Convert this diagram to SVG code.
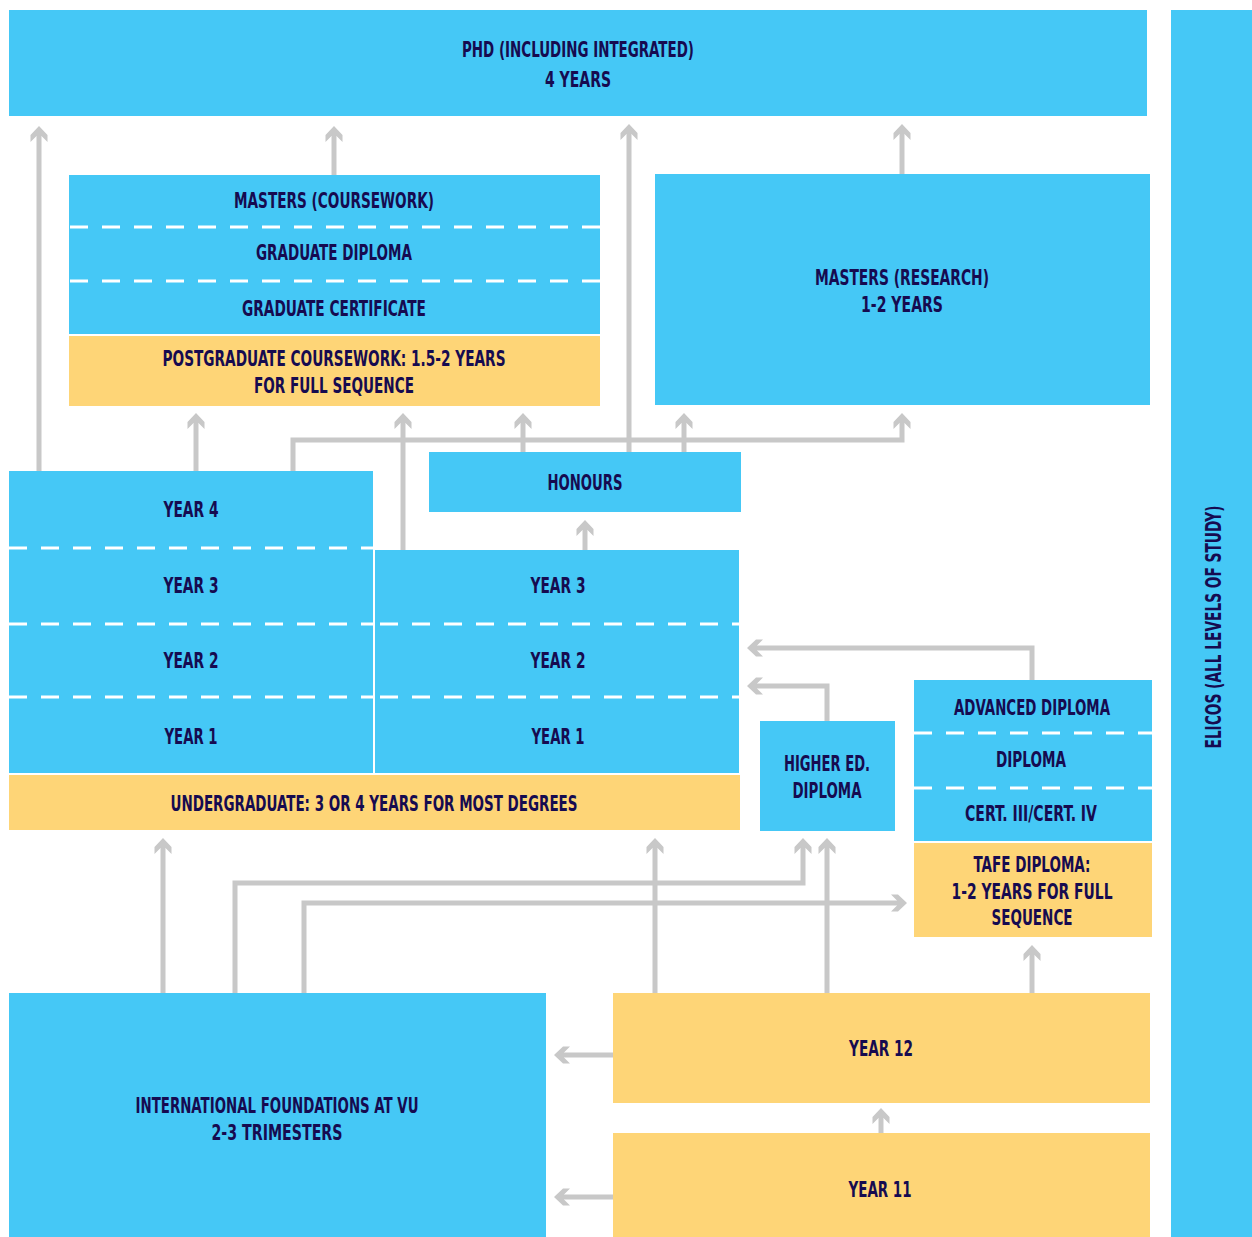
<svg xmlns="http://www.w3.org/2000/svg" width="1252" height="1237" viewBox="0 0 1252 1237">
<defs>
<style>
.b{fill:#45c8f6}
.y{fill:#fed577}
.d{stroke:#ffffff;stroke-width:3;stroke-dasharray:18 14;fill:none}
.t{font-family:"DejaVu Sans Condensed","Roboto Condensed","Liberation Sans Narrow","DejaVu Sans",sans-serif;font-weight:bold;font-stretch:condensed;font-size:22px;fill:#160b50;text-anchor:middle}
.c{stroke:#c8c8c8;stroke-width:5;fill:none}
.a{marker-end:url(#ah)}
</style>
<marker id="ah" markerUnits="userSpaceOnUse" orient="auto" refX="0" refY="0" markerWidth="30" markerHeight="30" viewBox="-12 -15 30 30" overflow="visible">
<polygon points="10,0 1,-8.5 -6,-8.5 0,-2.5 0,2.5 -6,8.5 1,8.5" fill="#c8c8c8"/>
</marker>
</defs>
<rect width="1252" height="1237" fill="#ffffff"/>

<g id="connectors">
<path class="c a" d="M39,471 V136"/>
<path class="c a" d="M334,175 V136"/>
<path class="c a" d="M629,452 V134"/>
<path class="c a" d="M902,174 V134"/>
<path class="c a" d="M196,471 V423"/>
<path class="c a" d="M403,550 V423"/>
<path class="c a" d="M293,471 V440 H902 V423"/>
<path class="c a" d="M523,452 V423"/>
<path class="c a" d="M684,452 V423"/>
<path class="c a" d="M585,550 V530"/>
<path class="c a" d="M1032,680 V648 H757"/>
<path class="c a" d="M827,721 V686 H757"/>
<path class="c a" d="M163,993 V848"/>
<path class="c a" d="M235,993 V883 H803 V848"/>
<path class="c a" d="M304,993 V903 H897"/>
<path class="c a" d="M655,993 V848"/>
<path class="c a" d="M827,993 V848"/>
<path class="c a" d="M1032,993 V955"/>
<path class="c a" d="M881,1133 V1118"/>
<path class="c a" d="M613,1055 H564"/>
<path class="c a" d="M613,1197 H564"/>
</g>

<g id="phd">
<rect class="b" x="9" y="10" width="1138" height="106"/>
<text class="t" x="578" y="57" textLength="232" lengthAdjust="spacingAndGlyphs">PHD (INCLUDING INTEGRATED)</text>
<text class="t" x="578" y="87" textLength="66" lengthAdjust="spacingAndGlyphs">4 YEARS</text>
</g>

<g id="elicos">
<rect class="b" x="1171" y="10" width="81" height="1227"/>
<text class="t" x="1213" y="635" transform="rotate(-90 1213 627)" textLength="243" lengthAdjust="spacingAndGlyphs">ELICOS (ALL LEVELS OF STUDY)</text>
</g>

<g id="masters-coursework">
<rect class="b" x="69" y="175" width="531" height="159"/>
<line class="d" x1="70" y1="227" x2="600" y2="227"/>
<line class="d" x1="70" y1="281" x2="600" y2="281"/>
<text class="t" x="334" y="208" textLength="200" lengthAdjust="spacingAndGlyphs">MASTERS (COURSEWORK)</text>
<text class="t" x="334" y="260" textLength="156" lengthAdjust="spacingAndGlyphs">GRADUATE DIPLOMA</text>
<text class="t" x="334" y="316" textLength="184" lengthAdjust="spacingAndGlyphs">GRADUATE CERTIFICATE</text>
</g>

<g id="postgrad-note">
<rect class="y" x="69" y="336" width="531" height="70"/>
<text class="t" x="334" y="366" textLength="343" lengthAdjust="spacingAndGlyphs">POSTGRADUATE COURSEWORK: 1.5-2 YEARS</text>
<text class="t" x="334" y="393" textLength="160" lengthAdjust="spacingAndGlyphs">FOR FULL SEQUENCE</text>
</g>

<g id="masters-research">
<rect class="b" x="655" y="174" width="495" height="231"/>
<text class="t" x="902" y="285" textLength="174" lengthAdjust="spacingAndGlyphs">MASTERS (RESEARCH)</text>
<text class="t" x="902" y="312" textLength="82" lengthAdjust="spacingAndGlyphs">1-2 YEARS</text>
</g>

<g id="honours">
<rect class="b" x="429" y="452" width="312" height="60"/>
<text class="t" x="585" y="490" textLength="75" lengthAdjust="spacingAndGlyphs">HONOURS</text>
</g>

<g id="undergrad-4yr">
<rect class="b" x="9" y="471" width="364" height="302"/>
<line class="d" x1="9" y1="548" x2="373" y2="548"/>
<line class="d" x1="9" y1="624" x2="373" y2="624"/>
<line class="d" x1="9" y1="697" x2="373" y2="697"/>
<text class="t" x="191" y="517" textLength="55" lengthAdjust="spacingAndGlyphs">YEAR 4</text>
<text class="t" x="191" y="593" textLength="55" lengthAdjust="spacingAndGlyphs">YEAR 3</text>
<text class="t" x="191" y="668" textLength="55" lengthAdjust="spacingAndGlyphs">YEAR 2</text>
<text class="t" x="191" y="744" textLength="53" lengthAdjust="spacingAndGlyphs">YEAR 1</text>
</g>

<g id="undergrad-3yr">
<rect class="b" x="375" y="550" width="364" height="223"/>
<line class="d" x1="380" y1="624" x2="739" y2="624"/>
<line class="d" x1="380" y1="697" x2="739" y2="697"/>
<text class="t" x="558" y="593" textLength="55" lengthAdjust="spacingAndGlyphs">YEAR 3</text>
<text class="t" x="558" y="668" textLength="55" lengthAdjust="spacingAndGlyphs">YEAR 2</text>
<text class="t" x="558" y="744" textLength="53" lengthAdjust="spacingAndGlyphs">YEAR 1</text>
</g>

<g id="undergrad-note">
<rect class="y" x="9" y="775" width="731" height="55"/>
<text class="t" x="374" y="811" textLength="407" lengthAdjust="spacingAndGlyphs">UNDERGRADUATE: 3 OR 4 YEARS FOR MOST DEGREES</text>
</g>

<g id="higher-ed-diploma">
<rect class="b" x="760" y="721" width="135" height="110"/>
<text class="t" x="827" y="771" textLength="86" lengthAdjust="spacingAndGlyphs">HIGHER ED.</text>
<text class="t" x="827" y="798" textLength="69" lengthAdjust="spacingAndGlyphs">DIPLOMA</text>
</g>

<g id="tafe">
<rect class="b" x="914" y="680" width="238" height="161"/>
<line class="d" x1="914" y1="733" x2="1152" y2="733"/>
<line class="d" x1="914" y1="788" x2="1152" y2="788"/>
<text class="t" x="1032" y="715" textLength="156" lengthAdjust="spacingAndGlyphs">ADVANCED DIPLOMA</text>
<text class="t" x="1031" y="767" textLength="70" lengthAdjust="spacingAndGlyphs">DIPLOMA</text>
<text class="t" x="1031" y="821" textLength="132" lengthAdjust="spacingAndGlyphs">CERT. III/CERT. IV</text>
</g>

<g id="tafe-note">
<rect class="y" x="914" y="843" width="238" height="94"/>
<text class="t" x="1032" y="872" textLength="117" lengthAdjust="spacingAndGlyphs">TAFE DIPLOMA:</text>
<text class="t" x="1032" y="899" textLength="161" lengthAdjust="spacingAndGlyphs">1-2 YEARS FOR FULL</text>
<text class="t" x="1032" y="925" textLength="81" lengthAdjust="spacingAndGlyphs">SEQUENCE</text>
</g>

<g id="foundations">
<rect class="b" x="9" y="993" width="537" height="244"/>
<text class="t" x="277" y="1113" textLength="283" lengthAdjust="spacingAndGlyphs">INTERNATIONAL FOUNDATIONS AT VU</text>
<text class="t" x="277" y="1140" textLength="131" lengthAdjust="spacingAndGlyphs">2-3 TRIMESTERS</text>
</g>

<g id="year12">
<rect class="y" x="613" y="993" width="537" height="110"/>
<text class="t" x="881" y="1056" textLength="64" lengthAdjust="spacingAndGlyphs">YEAR 12</text>
</g>

<g id="year11">
<rect class="y" x="613" y="1133" width="537" height="104"/>
<text class="t" x="880" y="1197" textLength="63" lengthAdjust="spacingAndGlyphs">YEAR 11</text>
</g>
</svg>
